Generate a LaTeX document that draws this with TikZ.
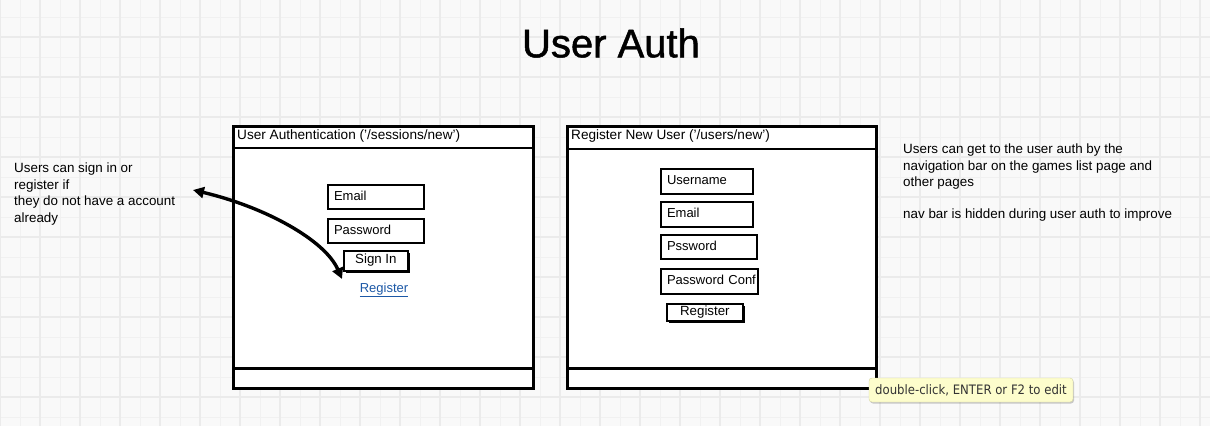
\documentclass[tikz,border=0pt]{standalone}
\usepackage{fontspec}
\setmainfont{Liberation Sans}
\newfontfamily\tipfont{DejaVu Sans Condensed}
\newfontfamily\headfont[FakeBold=1.2]{Liberation Sans}
\usetikzlibrary{positioning}
\usetikzlibrary{calc}
\usetikzlibrary{shadows}
\usetikzlibrary{arrows.meta}

\definecolor{paper}{HTML}{F9F9F9}
\definecolor{gridthin}{HTML}{F1F1F1}
\definecolor{gridthick}{HTML}{EBEBEB}
\definecolor{linkblue}{HTML}{1C58A6}
\definecolor{tipfill}{HTML}{FDFDCC}
\definecolor{tipline}{HTML}{D6D6A4}

\tikzset{
  win/.style={draw=black, line width=2.6pt, fill=white, anchor=north west, inner sep=0pt},
  wintitle/.style={anchor=west, inner sep=0pt, font=\fontsize{13.6}{15}\selectfont},
  field/.style={draw=black, line width=2pt, fill=white, anchor=north west, inner xsep=6pt, inner ysep=0pt,
    align=left, text height=9pt, text depth=3pt, font=\fontsize{13}{15}\selectfont},
  btn/.style={draw=black, line width=1.8pt, fill=white, anchor=north west, inner sep=0pt,
    text height=9pt, text depth=3pt, font=\fontsize{13.3}{15}\selectfont,
    drop shadow={shadow xshift=2pt, shadow yshift=-2pt, fill=black, opacity=1}},
  note/.style={anchor=north west, inner sep=0pt, align=left, font=\fontsize{13.4}{16.5}\selectfont},
}

\begin{document}
\begin{tikzpicture}[x=1pt, y=-1pt]

% paper and grid
\useasboundingbox (0,0) rectangle (1210,426);
\fill[paper] (0,0) rectangle (1210,426);
\foreach \gx in {20,60,...,1200} \draw[gridthin, line width=1pt] (\gx,0) -- (\gx,426);
\foreach \gy in {17,57,...,417} \draw[gridthin, line width=1pt] (0,\gy) -- (1210,\gy);
\foreach \gx in {0,40,...,1200} \draw[gridthick, line width=1.2pt] (\gx,0) -- (\gx,426);
\foreach \gy in {37,77,...,417} \draw[gridthick, line width=1.2pt] (0,\gy) -- (1210,\gy);

% title
\node[font=\headfont\fontsize{40}{44}\selectfont] (title) at (611,43) {User Auth};

%%% sign in window
\node[win, minimum width=300pt, minimum height=262pt] (authwin) at (232,125) {};
\draw[line width=2.6pt] ($ (authwin.north west) + (0,23) $) -- ($ (authwin.north east) + (0,23) $);
\draw[line width=2.6pt] ($ (authwin.south west) + (0,-21) $) -- ($ (authwin.south east) + (0,-21) $);
\node[wintitle] (authtitle) at (237,136) {User Authentication ('/sessions/new')};

\node[field, minimum width=96pt, minimum height=24pt, text width=84pt] (authemail) at (327,184) {Email};
\node[field, minimum width=96pt, minimum height=24pt, text width=84pt] (authpass) at (327,218) {Password};
\node[btn, minimum width=64pt, minimum height=20pt] (signin) at (343,250) {Sign In};
\node[text=linkblue, font=\fontsize{13}{15}\selectfont, inner sep=1pt] (reglink) at (384,290) {\underline{Register}};

%%% register window
\node[win, minimum width=309pt, minimum height=262pt] (regwin) at (566,125) {};
\draw[line width=2.6pt] ($ (regwin.north west) + (0,24) $) -- ($ (regwin.north east) + (0,24) $);
\draw[line width=2.6pt] ($ (regwin.south west) + (0,-21) $) -- ($ (regwin.south east) + (0,-21) $);
\node[wintitle] (regtitle) at (571,136) {Register New User ('/users/new')};

\node[field, minimum width=92pt, minimum height=25pt, text width=80pt] (reguser) at (660,168) {Username};
\node[field, minimum width=92pt, minimum height=25pt, text width=80pt] (regemail) at (660,201) {Email};
\node[field, minimum width=96pt, minimum height=24pt, text width=84pt] (regpass) at (660,234) {Pssword};
\node[field, minimum width=97pt, minimum height=25pt, text width=85pt] (regconf) at (660,268) {\mbox{Password Conf}};
\node[btn, minimum width=76pt, minimum height=17pt] (regbtn) at (666,303) {Register};

%%% notes
\node[note] (leftnote) at (14,163) {Users can sign in or\\register if\\they do not have a account\\already};
\node[note] (rightnote) at (903,144) {Users can get to the user auth by the\\navigation bar on the games list page and\\other pages\\[15pt]nav bar is hidden during user auth to improve};

% arrow between note and sign in
\coordinate (notetip) at (193,190);
\coordinate (signtip) at (342,279);
\draw[line width=3.4pt, {Triangle[length=11pt,width=11pt]}-{Triangle[length=11pt,width=11pt]}]
  (notetip) .. controls (265,207) and (325,240) .. (signtip);

% editing hint
\node[fill=tipfill, draw=tipline, rounded corners=3pt, minimum width=204pt, minimum height=24pt,
  text=black!80, font=\tipfont\fontsize{13}{15}\selectfont,
  drop shadow={shadow xshift=1pt, shadow yshift=-1.5pt, fill=black, opacity=0.2}] (edithint) at (971,390)
  {double-click, ENTER or F2 to edit};

\end{tikzpicture}
\end{document}
